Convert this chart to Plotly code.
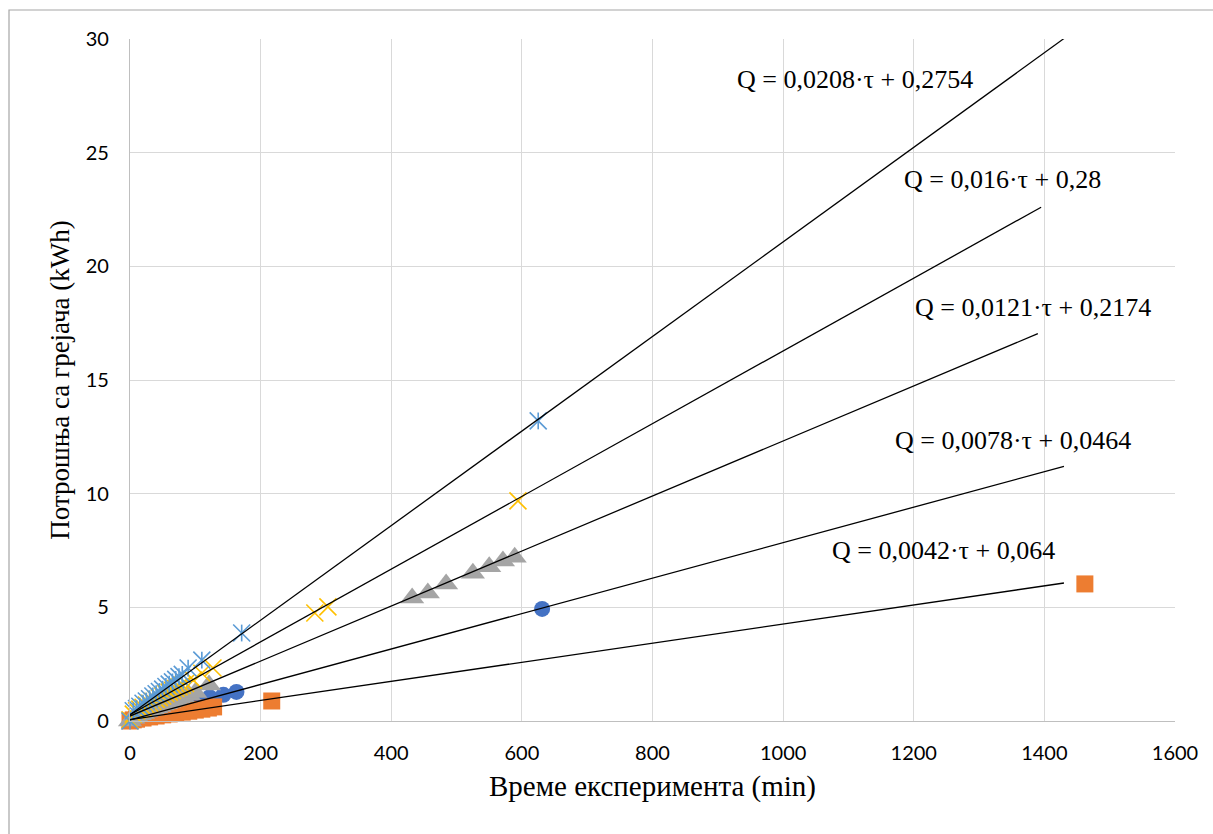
import plotly.graph_objects as go

# ---- data ----
tau_circle = [0, 10, 20, 30, 40, 50, 60, 70, 80, 90, 107, 122, 143, 163, 631]
q_circle = [0.0, 0.1, 0.18, 0.26, 0.33, 0.41, 0.49, 0.57, 0.64, 0.72, 0.89, 1.05, 1.15, 1.28, 4.93]

tau_square = [0, 5, 10, 20, 30, 40, 50, 60, 70, 80, 90, 100, 110, 120, 128, 217, 1462]
q_square = [0.0, 0.05, 0.08, 0.13, 0.18, 0.22, 0.27, 0.31, 0.35, 0.39, 0.43, 0.48, 0.52, 0.57, 0.62, 0.88, 6.03]

tau_tri = [0, 5, 10, 15, 20, 25, 30, 35, 40, 45, 50, 55, 60, 65, 70, 75, 81, 90, 100, 121,
           432, 456, 484, 525, 550, 571, 589]
q_tri = [0.0, 0.12, 0.2, 0.27, 0.33, 0.4, 0.46, 0.52, 0.58, 0.64, 0.7, 0.76, 0.82, 0.88, 0.94, 1.0, 1.06, 1.15, 1.25, 1.58,
         5.41, 5.63, 6.03, 6.5, 6.78, 7.04, 7.2]

tau_x = [0, 5, 10, 15, 20, 25, 30, 35, 40, 45, 50, 55, 60, 65, 70, 75, 80, 85, 97, 110, 127, 283, 303, 594]
q_x = [0.05, 0.3, 0.45, 0.52, 0.6, 0.7, 0.78, 0.87, 0.95, 1.03, 1.1, 1.2, 1.27, 1.35, 1.43, 1.5, 1.58, 1.65,
       1.8, 2.1, 2.33, 4.75, 5.02, 9.68]

tau_star = [0, 5, 10, 15, 20, 25, 30, 35, 40, 45, 50, 55, 60, 65, 70, 75, 80, 89, 110, 171, 625]
q_star = [0.0, 0.45, 0.55, 0.65, 0.78, 0.88, 0.98, 1.1, 1.2, 1.3, 1.4, 1.52, 1.62, 1.72, 1.83, 1.95, 2.05,
          2.33, 2.68, 3.87, 13.2]

# trendline coefficients (slope, intercept), end of drawn line (min), and label text
fit_slope = [0.0208, 0.016, 0.0121, 0.0078, 0.0042]
fit_intercept = [0.2754, 0.28, 0.2174, 0.0464, 0.064]
fit_end = [1430, 1395, 1390, 1430, 1430]
fit_labels = ["Q = 0,0208·τ + 0,2754", "Q = 0,016·τ + 0,28", "Q = 0,0121·τ + 0,2174",
              "Q = 0,0078·τ + 0,0464", "Q = 0,0042·τ + 0,064"]
label_pos = [(926, 28.24), (1182, 23.8), (1199, 18.17), (1168, 12.36), (1072, 7.52)]

x_ticks = [0, 200, 400, 600, 800, 1000, 1200, 1400, 1600]
y_ticks = [0, 5, 10, 15, 20, 25, 30]

fig = go.Figure()

fig.add_trace(go.Scatter(x=tau_circle, y=q_circle, mode="markers", cliponaxis=False,
                         marker=dict(symbol="circle", size=16, color="#4472C4")))
fig.add_trace(go.Scatter(x=tau_square, y=q_square, mode="markers", cliponaxis=False,
                         marker=dict(symbol="square", size=17, color="#ED7D31")))
fig.add_trace(go.Scatter(x=tau_tri, y=q_tri, mode="markers", cliponaxis=False,
                         marker=dict(symbol="triangle-up", size=21, color="#A5A5A5")))
fig.add_trace(go.Scatter(x=tau_x, y=q_x, mode="markers", cliponaxis=False,
                         marker=dict(symbol="x-thin-open", size=17, color="#FFC000",
                                     line=dict(color="#FFC000", width=1.6))))
fig.add_trace(go.Scatter(x=tau_star, y=q_star, mode="markers", cliponaxis=False,
                         marker=dict(symbol="x-thin-open", size=17, color="#5B9BD5",
                                     line=dict(color="#5B9BD5", width=1.6))))
fig.add_trace(go.Scatter(x=tau_star, y=q_star, mode="markers", cliponaxis=False,
                         marker=dict(symbol="line-ns-open", size=12, color="#5B9BD5",
                                     line=dict(color="#5B9BD5", width=1.6))))

for a, b, e in zip(fit_slope, fit_intercept, fit_end):
    fig.add_trace(go.Scatter(x=[0, e], y=[b, a * e + b], mode="lines",
                             line=dict(color="black", width=1.3)))

for txt, (lx, ly) in zip(fit_labels, label_pos):
    fig.add_annotation(x=lx, y=ly, text=txt, showarrow=False, xanchor="left", yanchor="middle",
                       font=dict(family="Liberation Serif", size=26, color="black"))

fig.update_layout(
    width=1213, height=834,
    margin=dict(l=130, r=38, t=39, b=113),
    paper_bgcolor="white", plot_bgcolor="white",
    showlegend=False,
    font=dict(family="Lato", size=20, color="#000000"),
    xaxis=dict(range=[0, 1600], tickvals=x_ticks, ticktext=[str(v) for v in x_ticks],
               showgrid=True, gridcolor="#D9D9D9", gridwidth=1.3,
               showline=True, linecolor="#BFBFBF", linewidth=1.3, zeroline=False,
               ticks="", ticklabelstandoff=14,
               title=dict(text="Време експеримента (min)", standoff=12,
                          font=dict(family="Liberation Serif", size=29, color="black"))),
    yaxis=dict(range=[0, 30], tickvals=y_ticks, ticktext=[str(v) for v in y_ticks],
               showgrid=True, gridcolor="#D9D9D9", gridwidth=1.3,
               showline=True, linecolor="#BFBFBF", linewidth=1.3, zeroline=False,
               ticks="", ticklabelstandoff=16,
               title=dict(text="Потрошња са грејача (kWh)", standoff=8,
                          font=dict(family="Liberation Serif", size=27, color="black"))),
)

# outer chart border (visible on left and top)
fig.add_shape(type="rect", xref="paper", yref="paper",
              x0=(9 - 130) / 1045, x1=(1230 - 130) / 1045,
              y0=(721 - 850) / 682, y1=(721 - 10) / 682,
              line=dict(color="#A6A6A6", width=1.2), layer="below")

fig.write_html("out.html")
